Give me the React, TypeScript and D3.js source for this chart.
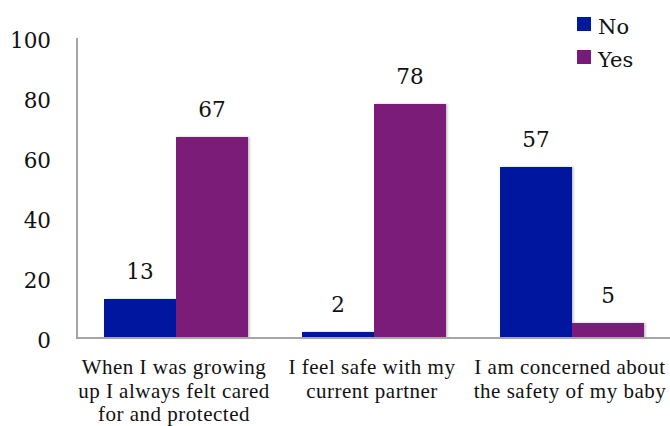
import React from "react";
import * as d3 from "d3";

const categories: string[][] = [
  ["When I was growing", "up I always felt cared", "for and protected"],
  ["I feel safe with my", "current partner"],
  ["I am concerned about", "the safety of my baby"],
];
const seriesNames = ["No", "Yes"];
const noValues = [13, 2, 57];
const yesValues = [67, 78, 5];
const yTicks = [0, 20, 40, 60, 80, 100];
const colors = ["#00199e", "#7a1a78"];

const W = 670;
const H = 426;
const left = 77;
const right = 671;
const top = 38;
const bottom = 338;

export default function App() {
  const x0 = d3
    .scaleBand<number>()
    .domain(categories.map((_, i) => i))
    .range([left, right])
    .padding(0);
  const x1 = d3
    .scaleBand<string>()
    .domain(seriesNames)
    .range([0, x0.bandwidth()])
    .paddingInner(0)
    .paddingOuter(0.375);
  const y = d3.scaleLinear().domain([0, 100]).range([bottom, top]);
  const series = [noValues, yesValues];
  const numFont = "'DejaVu Serif', serif";
  const labelFont = "'Liberation Serif', serif";

  return (
    <svg
      width={W}
      height={H}
      style={{ position: "absolute", left: 0, top: 0, background: "#fff" }}
    >
      <defs>
        <filter id="sh" x="-10%" y="-10%" width="130%" height="130%">
          <feDropShadow dx="1.5" dy="0" stdDeviation="1.2" floodColor="#000" floodOpacity="0.25" />
        </filter>
      </defs>
      {/* bars */}
      {categories.map((_, ci) =>
        seriesNames.map((s, si) => {
          const v = series[si][ci];
          const bx = (x0(ci) as number) + (x1(s) as number);
          return (
            <rect
              key={`${ci}-${s}`}
              x={bx}
              y={y(v)}
              width={x1.bandwidth()}
              height={bottom - y(v)}
              fill={colors[si]}
              filter="url(#sh)"
            />
          );
        })
      )}
      {/* axes */}
      <line x1={left} x2={left} y1={top} y2={bottom} stroke="#a6a6a6" strokeWidth={2} />
      <line x1={left - 1} x2={right} y1={bottom} y2={bottom} stroke="#a6a6a6" strokeWidth={2} />
      {yTicks.map((t) => (
        <text
          key={t}
          x={51}
          y={y(t) + 10}
          textAnchor="end"
          fontFamily={numFont}
          fontSize={21.5}
          fill="#111"
        >
          {t}
        </text>
      ))}
      {/* value labels */}
      {categories.map((_, ci) =>
        seriesNames.map((s, si) => {
          const v = series[si][ci];
          const cx = (x0(ci) as number) + (x1(s) as number) + x1.bandwidth() / 2;
          return (
            <text
              key={`l-${ci}-${s}`}
              x={cx}
              y={y(v) - 20}
              textAnchor="middle"
              fontFamily={numFont}
              fontSize={21.5}
              fill="#111"
            >
              {v}
            </text>
          );
        })
      )}
      {/* category labels */}
      {categories.map((lines, ci) =>
        lines.map((ln, li) => (
          <text
            key={`c-${ci}-${li}`}
            x={(x0(ci) as number) + x0.bandwidth() / 2 - 2}
            y={374 + li * 23.5}
            textAnchor="middle"
            fontFamily={labelFont}
            fontSize={21}
            letterSpacing={0.5}
            fill="#111"
          >
            {ln}
          </text>
        ))
      )}
      {/* legend */}
      {seriesNames.map((s, si) => (
        <g key={`lg-${s}`} transform={`translate(577, ${17 + si * 33})`}>
          <rect width={14} height={14} fill={colors[si]} />
          <text x={21} y={17} fontFamily={numFont} fontSize={21} fill="#111">
            {s}
          </text>
        </g>
      ))}
    </svg>
  );
}
